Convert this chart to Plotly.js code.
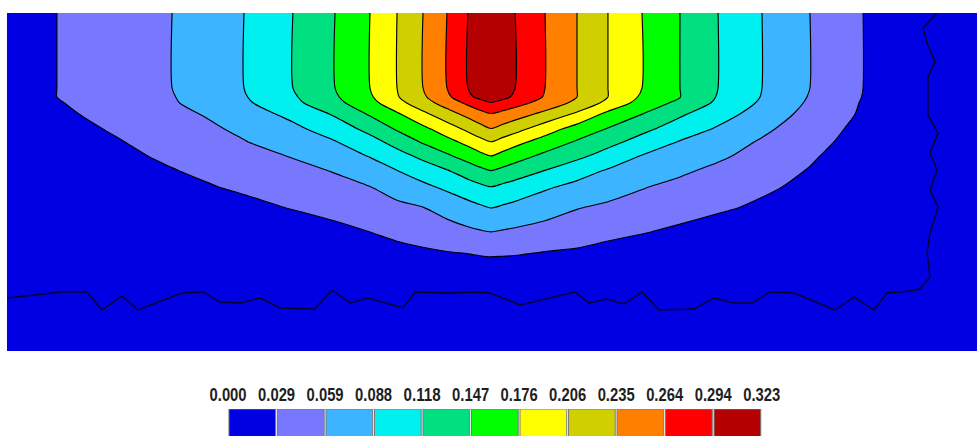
<!DOCTYPE html>
<html>
<head>
<meta charset="utf-8">
<script src="https://cdn.plot.ly/plotly-3.0.1.min.js"></script>
<style>
html,body{margin:0;padding:0;background:#fff;}
#chart{width:977px;height:436px;}
</style>
</head>
<body>
<div id="chart"></div>
<script>
// Legend labels (contour levels) and band colours
const levelLabels = ['0.000','0.029','0.059','0.088','0.118','0.147','0.176','0.206','0.235','0.264','0.294','0.323'];
const bandColors = ['#0000e2','#7878ff','#3cb4ff','#00f0f0','#00e080','#00ff00','#ffff00','#d0d000','#ff8000','#ff0000','#b40000'];
const legendIndex = [0,1,2,3,4,5,6,7,8,9,10];
const legendHeight = [1,1,1,1,1,1,1,1,1,1,1];

// Field sample grid
const xCols = [7,57,115,172,208,244,293,335,370,397,423,447,468,480,491,503,515,545,577,608,642,680,718,762,810,863,920,977];
const yRows = [13,88,97,103,114,129,142,156,171,187,208,232,257,290,352];
const zGrid = [
 [0.012,0.0294,0.044,0.0587,0.073,0.0881,0.1175,0.1468,0.1762,0.2055,0.2349,0.2643,0.2937,0.309,0.318,0.310,0.2937,0.2643,0.2349,0.2055,0.1762,0.1468,0.1175,0.0881,0.0587,0.0294,0.012,0.005],
 [0.012,0.0294,0.044,0.0587,0.073,0.0881,0.1175,0.1468,0.1762,0.2055,0.2349,0.2643,0.2937,0.309,0.318,0.310,0.2937,0.2643,0.2349,0.2055,0.1762,0.1468,0.1175,0.0881,0.0587,0.0294,0.012,0.005],
 [0.012,0.0294,0.0434,0.0573,0.0711,0.0860,0.1140,0.1433,0.1724,0.2032,0.2307,0.2579,0.2876,0.300,0.308,0.300,0.2890,0.2618,0.2349,0.2055,0.1717,0.1474,0.1155,0.0868,0.0568,0.0286,0.012,0.005],
 [0.011,0.0275,0.0419,0.0561,0.0686,0.0829,0.1102,0.1385,0.1661,0.1954,0.2226,0.2471,0.2700,0.2824,0.292,0.2843,0.2750,0.2525,0.2278,0.1975,0.1647,0.1394,0.1123,0.0837,0.0546,0.0273,0.011,0.005],
 [0.010,0.0241,0.0380,0.0516,0.0610,0.0745,0.0956,0.1209,0.1501,0.1724,0.1992,0.2231,0.2434,0.2548,0.263,0.2559,0.2482,0.2275,0.2005,0.1689,0.1471,0.1215,0.1004,0.0756,0.0498,0.0258,0.010,0.005],
 [0.009,0.0186,0.0322,0.0456,0.0541,0.0643,0.0815,0.1019,0.1258,0.1498,0.1691,0.1908,0.2120,0.2245,0.234,0.2250,0.2159,0.1894,0.1645,0.1450,0.1244,0.1039,0.0848,0.0643,0.0436,0.0214,0.009,0.004],
 [0.008,0.0134,0.0270,0.0405,0.0489,0.0574,0.0727,0.0865,0.1073,0.1273,0.1497,0.1669,0.1840,0.1958,0.205,0.1947,0.1848,0.1637,0.1437,0.1260,0.1068,0.0862,0.0721,0.0558,0.0381,0.0187,0.008,0.004],
 [0.007,0.0104,0.0225,0.0344,0.0419,0.0494,0.0602,0.0758,0.0894,0.1066,0.1243,0.1424,0.1587,0.1683,0.176,0.1671,0.1587,0.1402,0.1240,0.1062,0.0866,0.0749,0.0633,0.0489,0.0327,0.0149,0.007,0.003],
 [0.006,0.006,0.0168,0.0279,0.0348,0.0418,0.0513,0.0600,0.0754,0.0872,0.1017,0.1152,0.1303,0.1394,0.146,0.1396,0.1329,0.1164,0.0993,0.0850,0.0746,0.0630,0.0523,0.0405,0.0278,0.0136,0.006,0.003],
 [0.005,0.005,0.0095,0.0204,0.0273,0.0342,0.0435,0.0515,0.0582,0.0697,0.0817,0.0936,0.1053,0.1120,0.117,0.1114,0.1058,0.0918,0.0806,0.0709,0.0603,0.0515,0.0432,0.0337,0.0233,0.0118,0.005,0.003],
 [0.004,0.004,0.005,0.0058,0.0133,0.0207,0.0308,0.0395,0.0468,0.0524,0.0578,0.0677,0.0777,0.0834,0.088,0.0839,0.0799,0.0701,0.0597,0.0535,0.0472,0.0401,0.0330,0.0249,0.0160,0.0061,0.004,0.003],
 [0.003,0.003,0.003,0.003,0.003,0.003,0.0105,0.0208,0.0294,0.0360,0.0424,0.0483,0.0534,0.0564,0.0585,0.0563,0.0541,0.0487,0.0428,0.0372,0.0309,0.0241,0.0171,0.0091,0.003,0.003,0.003,0.003],
 [0.003,0.003,0.003,0.003,0.003,0.003,0.006,0.010,0.014,0.018,0.021,0.024,0.026,0.028,0.0292,0.0285,0.0278,0.024,0.022,0.0155,0.012,0.009,0.006,0.004,0.003,0.003,0.003,0.003],
 [0.003,0.003,0.003,0.003,0.003,0.003,0.003,0.003,0.003,0.003,0.003,0.003,0.003,0.003,0.003,0.003,0.003,0.003,0.003,0.003,0.003,0.003,0.003,0.003,0.003,0.003,0.003,0.003],
 [0.002,0.002,0.002,0.002,0.002,0.002,0.002,0.002,0.002,0.002,0.002,0.002,0.002,0.002,0.002,0.002,0.002,0.002,0.002,0.002,0.002,0.002,0.002,0.002,0.002,0.002,0.002,0.002]
];

// Zero-level contour (noisy boundary)
const zeroX = [7,62,87,102,122,138,182,203,220,240,260,280,315,332,350,368,403,415,450,473,490,520,575,589,607,624,642,659,694,714,734,752,770,794,835,854,874,887,910,920,930,927,930,938,930,937,930,938,928,928,935,927,923,937];
const zeroY = [298,292,292,310,296,310,293,292,302,303,298,308,309,290,303,298,308,292,293,292,293,305,292,303,299,304,292,310,309,298,303,303,292,293,310,297,310,293,291,289,277,253,233,207,190,170,153,133,115,77,62,43,28,13];

const levels = levelLabels.map(Number);
const step = (levels[levels.length-1] - levels[0]) / (levels.length - 1);

// stepped colourscale: region below first line, then one colour per band
const nBands = bandColors.length;
const colorscale = [];
bandColors.forEach((c, i) => {
  const lo = Math.max(0, (i - 0.5) / (nBands - 1));
  const hi = Math.min(1, (i + 0.5) / (nBands - 1));
  colorscale.push([lo, c]);
  colorscale.push([hi, c]);
});

const contourTrace = {
  type: 'contour',
  x: xCols, y: yRows, z: zGrid,
  autocontour: false,
  contours: {start: levels[0] + step, end: levels[0] + step * 10, size: step, coloring: 'fill', showlines: true},
  line: {color: '#000', width: 1.15, smoothing: 0.8},
  colorscale: colorscale,
  showscale: false,
  hoverinfo: 'skip',
  xaxis: 'x', yaxis: 'y'
};

const zeroTrace = {
  type: 'scatter', mode: 'lines',
  x: zeroX, y: zeroY,
  line: {color: '#05052a', width: 1.4},
  hoverinfo: 'skip', showlegend: false,
  xaxis: 'x', yaxis: 'y'
};

const legendTrace = {
  type: 'bar',
  x: legendIndex, y: legendHeight,
  width: 0.963,
  marker: {color: bandColors, line: {color: '#7a7a7a', width: 1}},
  hoverinfo: 'skip', showlegend: false,
  xaxis: 'x2', yaxis: 'y2'
};

const tickVals = levels.map((v, i) => i - 0.5);

const layout = {
  width: 977, height: 436,
  margin: {l: 7, r: 0, t: 13, b: 0, pad: 0},
  paper_bgcolor: '#fff', plot_bgcolor: '#fff',
  showlegend: false,
  xaxis: {domain: [0, 1], range: [7, 977], visible: false, fixedrange: true},
  yaxis: {domain: [(436 - 351) / 423, 1], range: [351, 13], visible: false, fixedrange: true},
  xaxis2: {
    domain: [0.2269, 0.7790], range: [-0.52, 10.52], anchor: 'y2',
    side: 'top', showgrid: false, zeroline: false, showline: false,
    tickmode: 'array', tickvals: tickVals, ticktext: levelLabels,
    ticks: '', ticklabelstandoff: 3,
    tickfont: {family: 'Liberation Sans, Arial, sans-serif', size: 18, color: '#1e1e1e', weight: 'bold'},
    fixedrange: true
  },
  yaxis2: {domain: [0, (436 - 409) / 423], range: [0.3, 1], anchor: 'x2', visible: false, fixedrange: true},
  bargap: 0
};

Plotly.newPlot('chart', [contourTrace, zeroTrace, legendTrace], layout, {staticPlot: true, displayModeBar: false}).then(() => {
  // narrow the legend labels like the condensed face in the original
  document.querySelectorAll('#chart g.x2tick text').forEach(t => {
    t.setAttribute('textLength', '37');
    t.setAttribute('lengthAdjust', 'spacingAndGlyphs');
  });
});
</script>
</body>
</html>
